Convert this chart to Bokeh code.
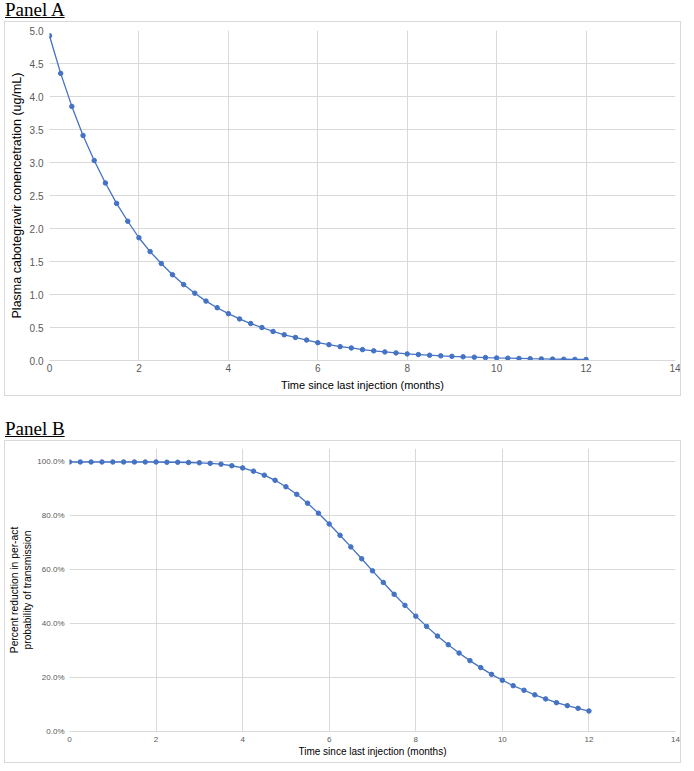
from bokeh.plotting import figure
from bokeh.models import Div, FixedTicker, NumeralTickFormatter, ColumnDataSource
from bokeh.embed import file_html
from bokeh.resources import INLINE

# ---- data ----
months = [0, 0.25, 0.5, 0.75, 1, 1.25, 1.5, 1.75, 2, 2.25, 2.5, 2.75, 3, 3.25, 3.5, 3.75,
          4, 4.25, 4.5, 4.75, 5, 5.25, 5.5, 5.75, 6, 6.25, 6.5, 6.75, 7, 7.25, 7.5, 7.75,
          8, 8.25, 8.5, 8.75, 9, 9.25, 9.5, 9.75, 10, 10.25, 10.5, 10.75, 11, 11.25, 11.5, 11.75, 12]

concentration = [4.92, 4.35, 3.85, 3.41, 3.03, 2.69, 2.38, 2.11, 1.86, 1.65, 1.47, 1.30, 1.15, 1.02,
                 0.90, 0.80, 0.71, 0.63, 0.56, 0.50, 0.44, 0.39, 0.35, 0.31, 0.27, 0.24, 0.21, 0.19,
                 0.165, 0.146, 0.13, 0.115, 0.10, 0.09, 0.08, 0.071, 0.063, 0.056, 0.050, 0.044,
                 0.039, 0.035, 0.031, 0.027, 0.024, 0.021, 0.019, 0.017, 0.015]

reduction = [1.000, 1.000, 1.000, 1.000, 1.000, 1.000, 1.000, 1.000, 1.000, 0.999, 0.999, 0.998,
             0.997, 0.995, 0.992, 0.986, 0.978, 0.966, 0.951, 0.932, 0.908, 0.880, 0.847, 0.810,
             0.770, 0.728, 0.685, 0.641, 0.596, 0.553, 0.509, 0.468, 0.428, 0.390, 0.354, 0.322,
             0.291, 0.263, 0.237, 0.212, 0.190, 0.170, 0.153, 0.136, 0.121, 0.107, 0.096, 0.086, 0.076]

x_ticks = [0, 2, 4, 6, 8, 10, 12, 14]
yA_ticks = [0, 0.5, 1.0, 1.5, 2.0, 2.5, 3.0, 3.5, 4.0, 4.5, 5.0]
yB_ticks = [0, 0.2, 0.4, 0.6, 0.8, 1.0]

BLUE = "#4472C4"
GRID = "#d9d9d9"
TICK = "#595959"
FONT = "Liberation Sans"


def style(p, tick_size):
    p.outline_line_color = None
    p.border_fill_color = "white"
    for ax in (p.xaxis[0], p.yaxis[0]):
        ax.major_tick_line_color = None
        ax.minor_tick_line_color = None
        ax.major_tick_out = 0
        ax.major_tick_in = 0
        ax.minor_tick_out = 0
        ax.minor_tick_in = 0
        ax.major_label_text_font = FONT
        ax.major_label_text_color = TICK
        ax.major_label_text_font_size = tick_size
        ax.axis_label_text_font = FONT
        ax.axis_label_text_font_style = "normal"
        ax.axis_label_text_color = "#000000"
    p.yaxis.axis_line_color = None
    p.xaxis.axis_line_color = GRID
    p.xgrid.grid_line_color = GRID
    p.ygrid.grid_line_color = GRID
    p.xaxis.ticker = FixedTicker(ticks=x_ticks)


srcA = ColumnDataSource(dict(x=months, y=concentration))
srcB = ColumnDataSource(dict(x=months, y=reduction))

BOX = {"border": "1px solid #d9d9d9", "margin-left": "4px"}

# ---- Panel A ----
pA = figure(width=677, height=375, output_backend="svg", toolbar_location=None,
            x_range=(0, 14), y_range=(0, 5), min_border_left=44, min_border_right=7,
            min_border_top=8, min_border_bottom=37, styles=BOX)
style(pA, "10px")
pA.yaxis.ticker = FixedTicker(ticks=yA_ticks)
pA.yaxis.formatter = NumeralTickFormatter(format="0.0")
pA.xaxis.axis_label = "Time since last injection (months)"
pA.yaxis.axis_label = "Plasma cabotegravir conencetration (ug/mL)"
pA.xaxis.axis_label_text_font_size = "11px"
pA.yaxis.axis_label_text_font_size = "12.5px"
pA.yaxis.major_label_standoff = 6
pA.xaxis.major_label_standoff = 3
pA.yaxis.axis_label_standoff = 3
pA.xaxis.axis_label_standoff = 4
pA.line("x", "y", source=srcA, line_color=BLUE, line_width=1.3)
pA.scatter("x", "y", source=srcA, size=4.5, fill_color=BLUE, line_color=BLUE)

# ---- Panel B ----
pB = figure(width=677, height=323, output_backend="svg", toolbar_location=None,
            x_range=(0, 14), y_range=(0, 1.05), min_border_left=64, min_border_right=7,
            min_border_top=7, min_border_bottom=33, styles=BOX)
style(pB, "8px")
pB.yaxis.ticker = FixedTicker(ticks=yB_ticks)
pB.yaxis.formatter = NumeralTickFormatter(format="0.0%")
pB.xaxis.axis_label = "Time since last injection (months)"
pB.yaxis.axis_label = "Percent reduction in per-act\nprobability of transmission"
pB.xaxis.axis_label_text_font_size = "10px"
pB.yaxis.axis_label_text_font_size = "10.3px"
pB.yaxis.major_label_standoff = 5
pB.xaxis.major_label_standoff = 5
pB.yaxis.axis_label_standoff = 1
pB.xaxis.axis_label_standoff = 1
pB.line("x", "y", source=srcB, line_color=BLUE, line_width=1.3)
pB.scatter("x", "y", source=srcB, size=4.5, fill_color=BLUE, line_color=BLUE)

title_css = ("font-family:'Liberation Serif';font-size:19px;text-decoration:underline;"
             "color:#000;line-height:20px;height:21px;overflow:visible;")
divA = Div(text=f'<div style="{title_css}">Panel A</div>', width=679, height=21,
           margin=(0, 0, 0, 5))
divB = Div(text=f'<div style="{title_css}">Panel B</div>', width=679, height=21,
           margin=(23, 0, 0, 5))

open("out.html", "w").write(file_html([divA, pA, divB, pB], INLINE))
